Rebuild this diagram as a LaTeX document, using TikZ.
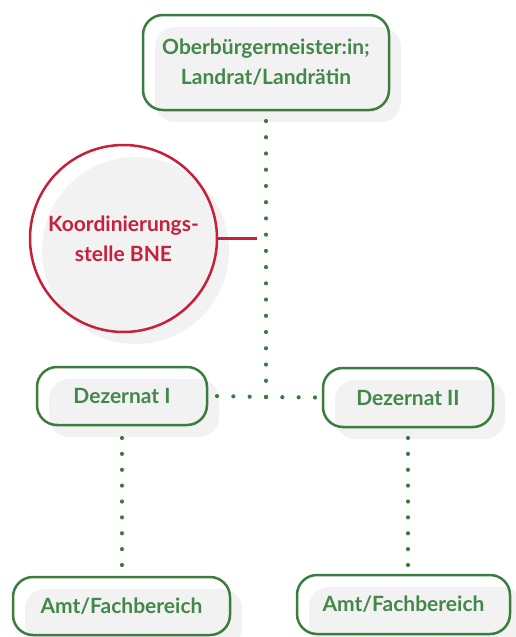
\documentclass[tikz,border=0pt]{standalone}
\usepackage{fontspec}
\setmainfont{Lato}
\usetikzlibrary{shadows}

\definecolor{orggreen}{HTML}{3B7D3F}
\definecolor{textgreen}{HTML}{43874A}
\definecolor{bnered}{HTML}{C7203A}
\definecolor{shade}{HTML}{F2F2F2}

\tikzset{
  backshade/.style={general shadow={fill=shade, draw=none,
      shadow xshift=12pt, shadow yshift=-12pt}},
  labelfont/.style={font=\bfseries\fontsize{21}{30}\selectfont},
  orgbox/.style={draw=orggreen, line width=2.5pt, rounded corners=20pt,
      backshade, text=textgreen, labelfont, align=center, inner sep=0pt,
      outer sep=0pt},
  bnecircle/.style={circle, draw=bnered, line width=2.5pt, backshade,
      text=bnered, labelfont, align=center, inner sep=0pt, outer sep=0pt},
  dotline/.style={draw=orggreen, line width=4.2pt, line cap=round,
      dash pattern=on 0pt off #1},
  redline/.style={draw=bnered, line width=2.5pt},
}

\begin{document}
\begin{tikzpicture}[x=1pt, y=-1pt]
  \useasboundingbox (0,0) rectangle (516,637);

  % leadership
  \node[orgbox, minimum width=246pt, minimum height=95pt] (top) at (266,62.5)
    {Oberbürgermeister:in;\\Landrat/Landrätin};

  % coordination office
  \node[bnecircle, minimum size=187pt] (bne) at (123.5,238.5)
    {Koordinierungs-\\stelle BNE};

  % departments
  \node[orgbox, minimum width=170pt, minimum height=58pt] (dez1) at (122,396)
    {Dezernat I};
  \node[orgbox, minimum width=170pt, minimum height=59pt] (dez2) at (408,397.5)
    {Dezernat II};

  % offices
  \node[orgbox, minimum width=217pt, minimum height=58pt] (amt1) at (121.5,606)
    {Amt/Fachbereich};
  \node[orgbox, minimum width=213pt, minimum height=59pt] (amt2) at (403.5,604.5)
    {Amt/Fachbereich};

  % junctions and free ends
  \coordinate (junction) at (266,397);
  \coordinate (bnetap) at (257,238.5);

  % connectors; each dotted path runs a little past its last dot so that dot is kept
  \draw[dotline=16.235pt] ([yshift=-11pt]top.south) -- ([yshift=-2pt]junction);
  \draw[redline] (bne.east) -- (bnetap);
  \draw[dotline=16.333pt] (junction) -- ([xshift=7pt]dez1.east);
  \draw[dotline=16.333pt] (junction) -- ([xshift=-5pt]dez2.west);
  \draw[dotline=15.875pt] ([yshift=-13pt]dez1.south) -- ([yshift=10pt]dez1.south |- amt1.north);
  \draw[dotline=15.875pt] ([yshift=-11pt]dez2.south) -- ([yshift=8pt]dez2.south |- amt2.north);
\end{tikzpicture}
\end{document}
